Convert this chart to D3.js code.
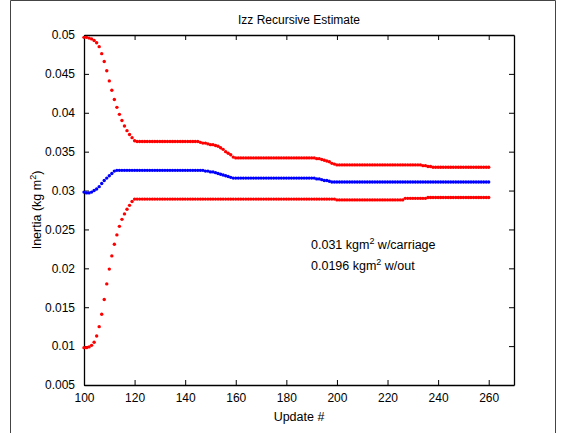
<!DOCTYPE html>
<html>
<head>
<meta charset="UTF-8">
<title>Izz Recursive Estimate</title>
<script src="https://cdn.jsdelivr.net/npm/d3@7"></script>
<style>
    body { margin: 0; background: #fff; }
    text { font-family: "Liberation Sans", Arial, sans-serif; fill: #000; }
</style>
</head>
<body>
<div id="chart"></div>
<script>
    // Update numbers run 100..260, one estimate per update
    const firstUpdate = 100;

    // upper estimate (red)
    const upper = [
        0.0497, 0.0497, 0.0496, 0.0495, 0.0493, 0.0490, 0.0485, 0.0476, 0.0466, 0.0454,
        0.0441, 0.0429, 0.0417, 0.0407, 0.0398, 0.0390, 0.0383, 0.0377, 0.0372, 0.0368,
        0.0364, 0.0363, 0.0363, 0.0363, 0.0363, 0.0363, 0.0363, 0.0363, 0.0363, 0.0363,
        0.0363, 0.0363, 0.0363, 0.0363, 0.0363, 0.0363, 0.0363, 0.0363, 0.0363, 0.0363,
        0.0363, 0.0363, 0.0363, 0.0363, 0.0363, 0.0363, 0.0362, 0.0361, 0.0361, 0.0360,
        0.0359, 0.0359, 0.0358, 0.0357, 0.0355, 0.0353, 0.0350, 0.0348, 0.0346, 0.0343,
        0.0342, 0.0342, 0.0342, 0.0342, 0.0342, 0.0342, 0.0342, 0.0342, 0.0342, 0.0342,
        0.0342, 0.0342, 0.0342, 0.0342, 0.0342, 0.0342, 0.0342, 0.0342, 0.0342, 0.0342,
        0.0342, 0.0342, 0.0342, 0.0342, 0.0342, 0.0342, 0.0342, 0.0342, 0.0342, 0.0342,
        0.0342, 0.0342, 0.0341, 0.0341, 0.0340, 0.0339, 0.0338, 0.0337, 0.0335, 0.0334,
        0.0333, 0.0333, 0.0333, 0.0333, 0.0333, 0.0333, 0.0333, 0.0333, 0.0333, 0.0333,
        0.0333, 0.0333, 0.0333, 0.0333, 0.0333, 0.0333, 0.0333, 0.0333, 0.0333, 0.0333,
        0.0333, 0.0333, 0.0333, 0.0333, 0.0333, 0.0333, 0.0333, 0.0333, 0.0333, 0.0333,
        0.0333, 0.0333, 0.0333, 0.0333, 0.0332, 0.0332, 0.0331, 0.0331, 0.0330, 0.0330,
        0.0330, 0.0330, 0.0330, 0.0330, 0.0330, 0.0330, 0.0330, 0.0330, 0.0330, 0.0330,
        0.0330, 0.0330, 0.0330, 0.0330, 0.0330, 0.0330, 0.0330, 0.0330, 0.0330, 0.0330,
        0.0330
    ];

    // central estimate (blue)
    const middle = [
        0.0298, 0.0297, 0.0297, 0.0298, 0.0300, 0.0302, 0.0305, 0.0309, 0.0313, 0.0316,
        0.0319, 0.0322, 0.0325, 0.0326, 0.0326, 0.0326, 0.0326, 0.0326, 0.0326, 0.0326,
        0.0326, 0.0326, 0.0326, 0.0326, 0.0326, 0.0326, 0.0326, 0.0326, 0.0326, 0.0326,
        0.0326, 0.0326, 0.0326, 0.0326, 0.0326, 0.0326, 0.0326, 0.0326, 0.0326, 0.0326,
        0.0326, 0.0326, 0.0326, 0.0326, 0.0326, 0.0326, 0.0326, 0.0326, 0.0325, 0.0325,
        0.0324, 0.0324, 0.0323, 0.0322, 0.0321, 0.0320, 0.0319, 0.0318, 0.0317, 0.0316,
        0.0316, 0.0316, 0.0316, 0.0316, 0.0316, 0.0316, 0.0316, 0.0316, 0.0316, 0.0316,
        0.0316, 0.0316, 0.0316, 0.0316, 0.0316, 0.0316, 0.0316, 0.0316, 0.0316, 0.0316,
        0.0316, 0.0316, 0.0316, 0.0316, 0.0316, 0.0316, 0.0316, 0.0316, 0.0316, 0.0316,
        0.0316, 0.0316, 0.0315, 0.0315, 0.0314, 0.0313, 0.0313, 0.0312, 0.0311, 0.0311,
        0.0311, 0.0311, 0.0311, 0.0311, 0.0311, 0.0311, 0.0311, 0.0311, 0.0311, 0.0311,
        0.0311, 0.0311, 0.0311, 0.0311, 0.0311, 0.0311, 0.0311, 0.0311, 0.0311, 0.0311,
        0.0311, 0.0311, 0.0311, 0.0311, 0.0311, 0.0311, 0.0311, 0.0311, 0.0311, 0.0311,
        0.0311, 0.0311, 0.0311, 0.0311, 0.0311, 0.0311, 0.0311, 0.0311, 0.0311, 0.0311,
        0.0311, 0.0311, 0.0311, 0.0311, 0.0311, 0.0311, 0.0311, 0.0311, 0.0311, 0.0311,
        0.0311, 0.0311, 0.0311, 0.0311, 0.0311, 0.0311, 0.0311, 0.0311, 0.0311, 0.0311,
        0.0311
    ];

    // lower estimate (red)
    const lower = [
        0.0098, 0.0098, 0.0099, 0.0101, 0.0105, 0.0113, 0.0125, 0.0141, 0.0160, 0.0180,
        0.0199, 0.0216, 0.0231, 0.0243, 0.0254, 0.0263, 0.0270, 0.0276, 0.0281, 0.0286,
        0.0289, 0.0289, 0.0289, 0.0289, 0.0289, 0.0289, 0.0289, 0.0289, 0.0289, 0.0289,
        0.0289, 0.0289, 0.0289, 0.0289, 0.0289, 0.0289, 0.0289, 0.0289, 0.0289, 0.0289,
        0.0289, 0.0289, 0.0289, 0.0289, 0.0289, 0.0289, 0.0289, 0.0289, 0.0289, 0.0289,
        0.0289, 0.0289, 0.0289, 0.0289, 0.0289, 0.0289, 0.0289, 0.0289, 0.0289, 0.0289,
        0.0289, 0.0289, 0.0289, 0.0289, 0.0289, 0.0289, 0.0289, 0.0289, 0.0289, 0.0289,
        0.0289, 0.0289, 0.0289, 0.0289, 0.0289, 0.0289, 0.0289, 0.0289, 0.0289, 0.0289,
        0.0289, 0.0289, 0.0289, 0.0289, 0.0289, 0.0289, 0.0289, 0.0289, 0.0289, 0.0289,
        0.0289, 0.0289, 0.0289, 0.0289, 0.0289, 0.0289, 0.0289, 0.0289, 0.0289, 0.0289,
        0.0288, 0.0288, 0.0288, 0.0288, 0.0288, 0.0288, 0.0288, 0.0288, 0.0288, 0.0288,
        0.0288, 0.0288, 0.0288, 0.0288, 0.0288, 0.0288, 0.0288, 0.0288, 0.0288, 0.0288,
        0.0288, 0.0288, 0.0288, 0.0288, 0.0288, 0.0288, 0.0288, 0.0290, 0.0290, 0.0290,
        0.0290, 0.0290, 0.0290, 0.0290, 0.0290, 0.0290, 0.0291, 0.0291, 0.0291, 0.0291,
        0.0291, 0.0291, 0.0291, 0.0291, 0.0291, 0.0291, 0.0291, 0.0291, 0.0291, 0.0291,
        0.0291, 0.0291, 0.0291, 0.0291, 0.0291, 0.0291, 0.0291, 0.0291, 0.0291, 0.0291,
        0.0291
    ];

    const xTicks = [100, 120, 140, 160, 180, 200, 220, 240, 260];
    const yTicks = [0.005, 0.01, 0.015, 0.02, 0.025, 0.03, 0.035, 0.04, 0.045, 0.05];
    const notes = [["0.031 kgm", " w/carriage"], ["0.0196 kgm", " w/out"]];

    const W = 567, H = 433;
    const plotLeft = 84, plotRight = 514, plotTop = 35, plotBottom = 385;

    const svg = d3.select("#chart").append("svg")
        .attr("width", W)
        .attr("height", H);

    // figure frame
    svg.append("path")
        .attr("d", "M10.5," + H + "V0.5H555.5V" + H)
        .attr("fill", "none")
        .attr("stroke", "#444")
        .attr("stroke-width", 1);

    const x = d3.scaleLinear().domain([100, 270]).range([plotLeft, plotRight]);
    const y = d3.scaleLinear().domain([0.005, 0.05]).range([plotBottom, plotTop]);

    const fmt = d => String(+d.toFixed(3));

    // axes with inward ticks, box on all sides
    const axB = svg.append("g").attr("transform", "translate(0," + plotBottom + ")")
        .call(d3.axisBottom(x).tickValues(xTicks).tickSizeInner(-5).tickSizeOuter(0).tickPadding(10));
    const axT = svg.append("g").attr("transform", "translate(0," + plotTop + ")")
        .call(d3.axisTop(x).tickValues(xTicks).tickSizeInner(-5).tickSizeOuter(0).tickFormat(""));
    const axL = svg.append("g").attr("transform", "translate(" + plotLeft + ",0)")
        .call(d3.axisLeft(y).tickValues(yTicks).tickSizeInner(-5).tickSizeOuter(0).tickPadding(9).tickFormat(fmt));
    const axR = svg.append("g").attr("transform", "translate(" + plotRight + ",0)")
        .call(d3.axisRight(y).tickValues(yTicks).tickSizeInner(-5).tickSizeOuter(0).tickFormat(""));

    [axB, axT, axL, axR].forEach(g => {
        g.select(".domain").attr("stroke", "#000").attr("stroke-width", 1.3);
        g.selectAll(".tick line").attr("stroke", "#000").attr("stroke-width", 1);
        g.selectAll("text").attr("font-size", "12px").attr("font-family", "Liberation Sans, Arial, sans-serif");
    });
    axB.selectAll("text").attr("dy", "0.55em");

    // dotted series
    const series = [
        { values: upper, color: "#ff0000" },
        { values: lower, color: "#ff0000" },
        { values: middle, color: "#0000ff" }
    ];
    series.forEach(s => {
        svg.append("g").selectAll("circle")
            .data(s.values)
            .enter()
            .append("circle")
            .attr("cx", (d, i) => x(firstUpdate + i))
            .attr("cy", d => y(d))
            .attr("r", 1.7)
            .attr("fill", s.color);
    });

    // title and labels
    svg.append("text")
        .attr("x", (plotLeft + plotRight) / 2)
        .attr("y", 24)
        .attr("text-anchor", "middle")
        .attr("font-size", "12px")
        .text("Izz Recursive Estimate");

    svg.append("text")
        .attr("x", (plotLeft + plotRight) / 2)
        .attr("y", 421)
        .attr("text-anchor", "middle")
        .attr("font-size", "12.5px")
        .text("Update #");

    const yl = svg.append("text")
        .attr("transform", "translate(41," + (plotTop + plotBottom) / 2 + ") rotate(-90)")
        .attr("text-anchor", "middle")
        .attr("font-size", "12.5px");
    yl.append("tspan").text("Inertia (kg m");
    yl.append("tspan").attr("font-size", "9px").attr("dy", "-5").text("2");
    yl.append("tspan").attr("dy", "5").text(")");

    // annotation
    notes.forEach((n, i) => {
        const t = svg.append("text")
            .attr("x", 311)
            .attr("y", 249 + i * 21)
            .attr("font-size", "12.5px");
        t.append("tspan").text(n[0]);
        t.append("tspan").attr("font-size", "9px").attr("dy", "-5").text("2");
        t.append("tspan").attr("dy", "5").text(n[1]);
    });
</script>
</body>
</html>
